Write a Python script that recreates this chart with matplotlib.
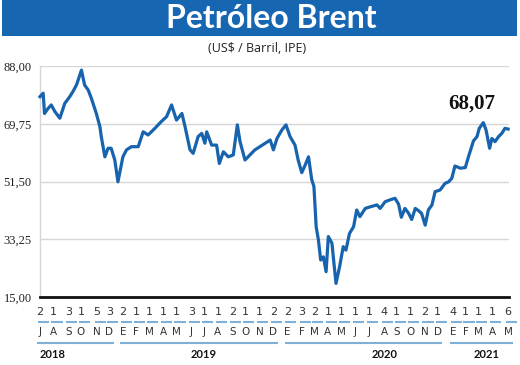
import matplotlib
matplotlib.use("Agg")
import matplotlib.pyplot as plt
import matplotlib.dates as mdates
from matplotlib.patches import Rectangle
from datetime import date

# ---------------- data ----------------
dates = [
    "2018-07-02", "2018-07-09", "2018-07-12", "2018-07-20", "2018-07-27", "2018-08-04",
    "2018-08-15", "2018-08-26", "2018-09-06", "2018-09-13", "2018-09-21", "2018-10-02",
    "2018-10-09", "2018-10-17", "2018-10-24", "2018-11-04", "2018-11-12", "2018-11-15",
    "2018-11-23", "2018-11-30", "2018-12-07", "2018-12-15", "2018-12-22", "2019-01-02",
    "2019-01-10", "2019-01-21", "2019-02-05", "2019-02-16", "2019-02-27", "2019-03-14",
    "2019-03-28", "2019-04-09", "2019-04-20", "2019-05-01", "2019-05-13", "2019-05-20",
    "2019-05-31", "2019-06-07", "2019-06-18", "2019-06-26", "2019-07-03", "2019-07-07",
    "2019-07-18", "2019-07-29", "2019-08-04", "2019-08-13", "2019-08-24", "2019-09-04",
    "2019-09-13", "2019-09-19", "2019-09-30", "2019-10-11", "2019-10-22", "2019-11-02",
    "2019-11-14", "2019-11-25", "2019-12-02", "2019-12-10", "2019-12-21", "2019-12-30",
    "2020-01-08", "2020-01-19", "2020-01-26", "2020-02-03", "2020-02-10", "2020-02-18",
    "2020-02-25", "2020-03-01", "2020-03-06", "2020-03-11", "2020-03-16", "2020-03-22",
    "2020-03-28", "2020-04-02", "2020-04-10", "2020-04-13", "2020-04-19", "2020-04-27",
    "2020-05-05", "2020-05-11", "2020-05-19", "2020-05-28", "2020-06-04", "2020-06-11",
    "2020-06-23", "2020-07-04", "2020-07-19", "2020-07-26", "2020-08-06", "2020-08-17",
    "2020-08-28", "2020-09-05", "2020-09-11", "2020-09-19", "2020-09-27", "2020-10-04",
    "2020-10-12", "2020-10-19", "2020-10-26", "2020-11-03", "2020-11-10", "2020-11-18",
    "2020-11-25", "2020-12-06", "2020-12-17", "2020-12-25", "2021-01-01", "2021-01-08",
    "2021-01-20", "2021-01-31", "2021-02-07", "2021-02-18", "2021-02-26", "2021-03-03",
    "2021-03-12", "2021-03-18", "2021-03-26", "2021-03-31", "2021-04-07", "2021-04-15",
    "2021-04-22", "2021-04-29", "2021-05-06",
]
prices = [
    78.3, 79.4, 73.0, 74.6, 75.7, 73.6,
    71.5, 76.2, 78.3, 79.9, 82.0, 86.7,
    82.0, 80.4, 77.8, 73.0, 68.8, 65.7,
    59.3, 62.0, 62.0, 58.3, 51.4, 59.3,
    61.5, 62.5, 62.5, 67.2, 66.2, 68.3,
    70.4, 72.0, 75.7, 70.9, 73.0, 68.8,
    61.5, 60.4, 65.7, 66.7, 63.6, 67.2,
    63.0, 63.0, 57.2, 60.9, 59.3, 59.9,
    69.4, 64.1, 58.3, 59.9, 61.5, 62.5,
    63.6, 64.6, 61.5, 65.1, 67.8, 69.4,
    65.7, 63.0, 58.3, 54.3, 56.5, 59.3,
    52.2, 49.9, 37.2, 33.0, 26.7, 27.7,
    23.0, 34.1, 32.0, 27.7, 19.3, 24.6,
    30.9, 29.8, 35.1, 37.2, 42.5, 40.4,
    43.0, 43.5, 44.1, 43.0, 45.1, 45.7,
    46.2, 44.3, 40.2, 43.0, 41.5, 39.5,
    43.0, 42.3, 41.4, 37.7, 42.5, 44.1,
    48.3, 48.8, 50.9, 51.4, 52.5, 56.4,
    55.7, 55.9, 59.3, 64.3, 65.7, 68.3,
    70.1, 67.8, 62.0, 65.1, 64.1, 65.7,
    66.7, 68.3, 68.07,
]

yticks = [15.00, 33.25, 51.50, 69.75, 88.00]
tick_years = [2018] * 6 + [2019] * 12 + [2020] * 12 + [2021] * 5
tick_months = list(range(7, 13)) + list(range(1, 13)) * 2 + list(range(1, 6))
tick_days = [2, 1, 3, 1, 5, 3,
             2, 1, 1, 1, 1, 3, 1, 1, 2, 1, 1, 2,
             2, 3, 2, 1, 1, 1, 1, 4, 1, 1, 2, 1,
             4, 1, 1, 1, 6]
month_letters = ["E", "F", "M", "A", "M", "J", "J", "A", "S", "O", "N", "D"]
year_labels = ["2018", "2019", "2020", "2021"]
last_label = "68,07"
title = "Petróleo Brent"
subtitle = "(US$ / Barril, IPE)"

# ---------------- figure ----------------
W, H = 520, 365
fig = plt.figure(figsize=(W / 100, H / 100), dpi=100)
fig.patch.set_facecolor("white")

BLUE = "#1763ad"
LIGHT = "#7fb0d8"
TXT = "#222222"

# title banner
fig.patches.append(Rectangle((2 / W, 1 - 36 / H), 515 / W, 36 / H,
                             transform=fig.transFigure, facecolor="#1766b2",
                             edgecolor="none", zorder=0))
fig.text(271 / W, 1 - 19 / H, title, ha="center", va="center", color="white",
         fontsize=23, fontweight="bold", family=["Lato", "DejaVu Sans"])
fig.text(257 / W, 1 - 49 / H, subtitle, ha="center", va="center", color=TXT,
         fontsize=9, family=["Open Sans", "DejaVu Sans"])

AX_BOTTOM, AX_H = 297, 231
ax = fig.add_axes([40 / W, 1 - AX_BOTTOM / H, 469 / W, AX_H / H])
x = mdates.datestr2num(dates)
ax.plot(x, prices, color=BLUE, lw=2.3, solid_joinstyle="round", zorder=3,
        clip_on=False)

ax.set_ylim(15, 88)
x0 = mdates.date2num(date(2018, 7, 2))
x1 = mdates.date2num(date(2021, 5, 8))
ax.set_xlim(x0, x1)
ax.set_autoscale_on(False)
ax.set_yticks(yticks)
ax.set_yticklabels([f"{v:.2f}".replace(".", ",") for v in yticks],
                   family=["Liberation Serif", "DejaVu Serif"], fontsize=9,
                   color=TXT)
ax.tick_params(axis="y", length=0, pad=6)
ax.set_xticks([])
ax.yaxis.grid(True, color="#d6d6d6", lw=1.0)
ax.set_axisbelow(True)
for s in ["top", "right"]:
    ax.spines[s].set_visible(False)
ax.spines["left"].set_color("#d6d6d6")
ax.spines["left"].set_linewidth(1.0)
ax.spines["bottom"].set_color("#111111")
ax.spines["bottom"].set_linewidth(2.0)
ax.spines["bottom"].set_zorder(4)

# last value label
ax.text(mdates.date2num(date(2021, 2, 15)), 76.0, last_label, ha="center",
        va="center", fontsize=15, fontweight="bold",
        family=["Liberation Serif", "DejaVu Serif"], color="#111111")

# x axis custom labels (x in data, y in axes fraction)
tr = ax.get_xaxis_transform()
def ay(py):
    return (AX_BOTTOM - py) / AX_H

cond = ["Liberation Sans Narrow", "DejaVu Sans"]
tick_x = [mdates.date2num(date(y, m, d)) for y, m, d in zip(tick_years, tick_months, tick_days)]
for xi, d, m in zip(tick_x, tick_days, tick_months):
    ax.text(xi, ay(312), str(d), transform=tr, ha="center", va="center",
            fontsize=8, color="#333333", family=cond, clip_on=False)
    ax.text(xi, ay(332), month_letters[m - 1], transform=tr, ha="center",
            va="center", fontsize=7.5, color="#333333", family=cond,
            clip_on=False)
ax.hlines([ay(322)] * len(tick_x), [t - 5 for t in tick_x],
          [t + 20 for t in tick_x], transform=tr, colors=LIGHT, lw=1.5,
          clip_on=False)

# year underline and labels
groups = {}
for xi, yv in zip(tick_x, tick_years):
    groups.setdefault(yv, []).append(xi)
year_pos = {
    2018: (mdates.date2num(date(2018, 7, 2)), "left"),
    2019: (mdates.date2num(date(2019, 7, 1)), "center"),
    2020: (mdates.date2num(date(2020, 8, 5)), "center"),
    2021: (mdates.date2num(date(2021, 3, 20)), "center"),
}
for yv, lbl in zip(sorted(groups), year_labels):
    xs = groups[yv]
    ax.hlines(ay(343), xs[0] - 6, xs[-1] + 10, transform=tr, colors=LIGHT,
              lw=1.5, clip_on=False)
    px, ha = year_pos[yv]
    ax.text(px, ay(355), lbl, transform=tr, ha=ha, va="center",
            fontsize=8, fontweight="bold", color="#111111",
            family=["Lato", "DejaVu Sans"], clip_on=False)

fig.savefig("out.png", dpi=100, facecolor="white")
